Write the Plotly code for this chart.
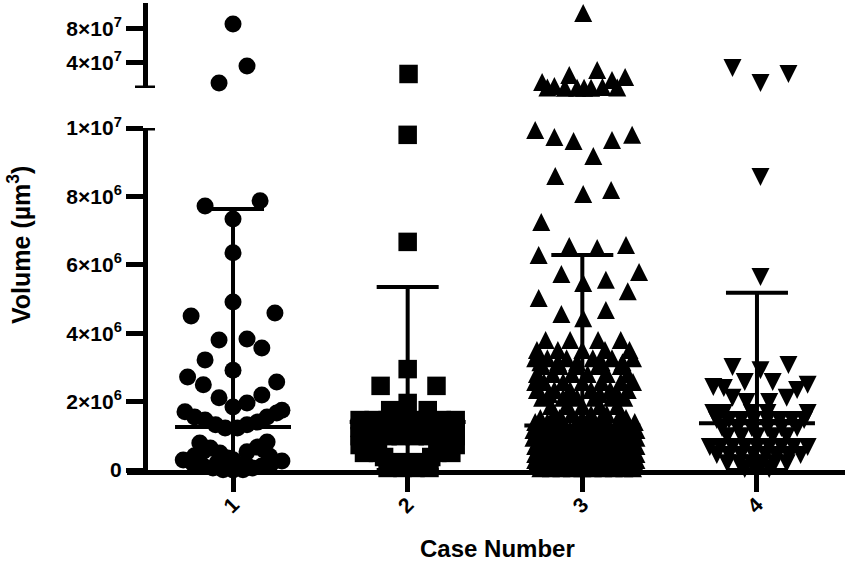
import plotly.graph_objects as go

# ---------------- data ----------------
categories = [1, 2, 3, 4]
tick_labels = ["1", "2", "3", "4"]

case1_volume = [8.53e7, 3.59e7, 1.59e7,
                7.72e6, 7.87e6, 7.34e6, 6.35e6, 4.91e6, 4.50e6, 4.59e6, 3.80e6, 3.83e6, 3.57e6,
                3.22e6, 2.92e6, 2.72e6, 2.49e6, 2.57e6, 2.11e6, 2.19e6, 1.84e6, 1.96e6,
                1.70e6, 1.55e6, 1.46e6, 1.32e6, 1.23e6, 1.23e6, 1.32e6, 1.40e6, 1.55e6, 1.67e6, 1.75e6,
                0.79e6, 0.64e6, 0.50e6, 0.35e6, 0.53e6, 0.67e6, 0.82e6,
                0.42e6, 0.40e6, 0.55e6, 0.58e6, 0.22e6, 0.20e6, 0.30e6,
                0.29e6, 0.20e6, 0.12e6, 0.06e6, 0.01e6, 0.01e6, 0.06e6, 0.12e6, 0.20e6, 0.26e6, 0.0]
case1_jitter = [0.00, 0.08, -0.08,
                -0.16, 0.155, 0.0, 0.0, 0.0, -0.24, 0.24, -0.08, 0.08, 0.165,
                -0.16, 0.0, -0.26, -0.17, 0.25, -0.08, 0.165, 0.0, 0.08,
                -0.275, -0.22, -0.16, -0.10, -0.045, 0.025, 0.08, 0.14, 0.195, 0.25, 0.28,
                -0.19, -0.13, -0.075, -0.03, 0.08, 0.14, 0.195,
                -0.22, 0.21, -0.17, 0.18, -0.09, 0.07, 0.0,
                -0.285, -0.23, -0.17, -0.115, -0.057, 0.057, 0.11, 0.165, 0.22, 0.28, 0.0]

case2_volume = [2.65e7,
                9.80e6, 6.67e6, 2.95e6, 2.46e6, 2.46e6, 1.96e6, 1.75e6, 1.75e6,
                1.46e6, 1.46e6, 1.46e6, 1.46e6, 1.46e6, 1.46e6, 1.46e6, 1.46e6,
                1.23e6, 1.23e6, 1.23e6, 1.23e6, 1.23e6, 1.23e6,
                0.99e6, 0.99e6, 0.99e6, 0.99e6, 0.99e6, 0.99e6, 0.99e6, 0.99e6,
                0.73e6, 0.73e6, 0.73e6, 0.73e6,
                0.50e6, 0.50e6, 0.50e6, 0.50e6,
                0.38e6, 0.38e6, 0.23e6, 0.23e6,
                0.06e6, 0.06e6, 0.06e6, 0.06e6]
case2_jitter = [0.005,
                0.0, 0.0, 0.0, -0.155, 0.165, 0.0, -0.10, 0.115,
                -0.275, -0.195, -0.115, -0.04, 0.04, 0.115, 0.195, 0.275,
                -0.275, 0.275, -0.16, -0.06, 0.07, 0.17,
                -0.275, -0.195, -0.115, -0.04, 0.04, 0.115, 0.195, 0.275,
                -0.275, -0.195, 0.195, 0.275,
                -0.25, -0.17, 0.17, 0.25,
                -0.135, 0.135, -0.057, 0.057,
                -0.115, -0.03, 0.045, 0.125]

case3_volume = [9.82e7, 1.71e7, 1.24e7, 2.53e7, 1.02e7, 1.02e7, 3.12e7, 1.12e7, 1.94e7, 2.29e7,
                1.02e7, 1.02e7, 1.05e7, 1.05e7,
                9.94e6, 9.74e6, 9.62e6, 9.18e6, 9.65e6, 9.80e6, 8.60e6, 8.07e6, 8.19e6,
                7.25e6, 6.55e6, 6.49e6, 6.29e6, 6.58e6, 5.73e6, 5.47e6, 5.56e6, 5.79e6,
                5.03e6, 4.56e6, 4.44e6, 4.68e6, 5.23e6,
                3.80e6, 3.80e6, 3.80e6, 3.80e6,
                3.51e6, 3.51e6, 3.51e6, 3.51e6, 3.51e6,
                3.27e6, 3.27e6, 3.27e6, 3.27e6, 3.27e6, 3.27e6,
                3.04e6, 3.04e6, 3.04e6, 3.04e6, 3.04e6,
                2.81e6, 2.81e6, 2.81e6, 2.81e6, 2.81e6, 2.81e6,
                2.57e6, 2.57e6, 2.57e6, 2.57e6, 2.57e6, 2.57e6, 2.57e6,
                2.34e6, 2.34e6, 2.34e6, 2.34e6, 2.34e6, 2.34e6,
                2.11e6, 2.11e6, 2.11e6, 2.11e6, 2.11e6, 2.11e6,
                1.87e6, 1.87e6, 1.87e6, 1.87e6, 1.87e6,
                1.64e6, 1.64e6, 1.64e6, 1.64e6, 1.64e6,
                1.40e6, 1.40e6, 1.40e6, 1.40e6, 1.40e6, 1.40e6, 1.40e6, 1.40e6,
                1.17e6, 1.17e6, 1.17e6, 1.17e6, 1.17e6, 1.17e6, 1.17e6, 1.17e6, 1.17e6,
                0.94e6, 0.94e6, 0.94e6, 0.94e6, 0.94e6, 0.94e6, 0.94e6, 0.94e6, 0.94e6, 0.94e6,
                0.70e6, 0.70e6, 0.70e6, 0.70e6, 0.70e6, 0.70e6, 0.70e6, 0.70e6, 0.70e6, 0.70e6,
                0.47e6, 0.47e6, 0.47e6, 0.47e6, 0.47e6, 0.47e6, 0.47e6, 0.47e6, 0.47e6, 0.47e6, 0.47e6,
                0.29e6, 0.29e6, 0.29e6, 0.29e6, 0.29e6, 0.29e6, 0.29e6, 0.29e6, 0.29e6, 0.29e6, 0.29e6,
                0.12e6, 0.12e6, 0.12e6, 0.12e6, 0.12e6, 0.12e6, 0.12e6, 0.12e6, 0.12e6, 0.12e6, 0.12e6,
                3.15e6, 3.15e6, 3.15e6, 3.15e6, 3.15e6,
                2.22e6, 2.22e6, 2.22e6, 2.22e6,
                1.52e6, 1.52e6, 1.52e6, 1.52e6, 1.52e6,
                1.28e6, 1.28e6, 1.28e6, 1.28e6, 1.28e6, 1.28e6, 1.28e6, 1.28e6,
                1.05e6, 1.05e6, 1.05e6, 1.05e6, 1.05e6, 1.05e6, 1.05e6, 1.05e6, 1.05e6, 1.05e6,
                0.82e6, 0.82e6, 0.82e6, 0.82e6, 0.82e6, 0.82e6, 0.82e6, 0.82e6, 0.82e6, 0.82e6,
                0.58e6, 0.58e6, 0.58e6, 0.58e6, 0.58e6, 0.58e6, 0.58e6, 0.58e6, 0.58e6, 0.58e6,
                0.38e6, 0.38e6, 0.38e6, 0.38e6, 0.38e6, 0.38e6, 0.38e6, 0.38e6, 0.38e6, 0.38e6,
                0.20e6, 0.20e6, 0.20e6, 0.20e6, 0.20e6, 0.20e6, 0.20e6, 0.20e6, 0.20e6, 0.20e6,
                0.05e6, 0.05e6, 0.05e6, 0.05e6, 0.05e6, 0.05e6, 0.05e6, 0.05e6, 0.05e6, 0.05e6]
case3_jitter = [0.005, -0.23, -0.16, -0.075, -0.03, 0.05, 0.085, 0.115, 0.17, 0.245,
                -0.10, 0.01, -0.20, 0.20,
                -0.27, -0.16, -0.05, 0.063, 0.17, 0.285, -0.155, 0.005, 0.165,
                -0.235, -0.075, 0.085, -0.25, 0.25, -0.12, 0.005, 0.135, 0.325,
                -0.25, -0.12, 0.005, 0.135, 0.26,
                -0.21, -0.07, 0.09, 0.22,
                -0.26, -0.14, 0.0, 0.13, 0.27,
                -0.27, -0.20, -0.09, 0.06, 0.17, 0.29,
                -0.23, -0.13, -0.03, 0.09, 0.22,
                -0.26, -0.17, -0.06, 0.03, 0.14, 0.26,
                -0.27, -0.22, -0.11, 0.0, 0.11, 0.22, 0.29,
                -0.26, -0.16, -0.07, 0.05, 0.16, 0.26,
                -0.23, -0.11, -0.03, 0.07, 0.17, 0.24,
                -0.18, -0.09, 0.0, 0.10, 0.20,
                -0.16, -0.06, 0.05, 0.14, 0.22,
                -0.27, -0.20, -0.11, -0.03, 0.06, 0.14, 0.23, 0.30,
                -0.28, -0.22, -0.14, -0.07, 0.0, 0.08, 0.16, 0.24, 0.31,
                -0.28, -0.22, -0.15, -0.08, -0.01, 0.05, 0.12, 0.19, 0.25, 0.31,
                -0.27, -0.20, -0.13, -0.06, 0.01, 0.08, 0.15, 0.22, 0.28, 0.31,
                -0.27, -0.21, -0.15, -0.09, -0.03, 0.03, 0.09, 0.15, 0.21, 0.27, 0.31,
                -0.27, -0.21, -0.15, -0.09, -0.03, 0.03, 0.09, 0.15, 0.21, 0.27, 0.31,
                -0.27, -0.21, -0.15, -0.09, -0.03, 0.03, 0.09, 0.15, 0.21, 0.27, 0.31,
                -0.24, -0.14, -0.03, 0.11, 0.23,
                -0.19, -0.08, 0.10, 0.20,
                -0.24, -0.13, 0.0, 0.11, 0.25,
                -0.25, -0.17, -0.10, -0.03, 0.04, 0.11, 0.19, 0.27,
                -0.24, -0.18, -0.12, -0.06, 0.0, 0.06, 0.12, 0.18, 0.24, 0.29,
                -0.24, -0.18, -0.12, -0.06, 0.0, 0.06, 0.12, 0.18, 0.24, 0.29,
                -0.24, -0.18, -0.12, -0.06, 0.0, 0.06, 0.12, 0.18, 0.24, 0.29,
                -0.24, -0.18, -0.12, -0.06, 0.0, 0.06, 0.12, 0.18, 0.24, 0.29,
                -0.24, -0.18, -0.12, -0.06, 0.0, 0.06, 0.12, 0.18, 0.24, 0.29,
                -0.24, -0.18, -0.12, -0.06, 0.0, 0.06, 0.12, 0.18, 0.24, 0.29]

case4_volume = [3.35e7, 1.59e7, 2.65e7,
                8.57e6, 5.64e6,
                3.01e6, 2.92e6, 3.07e6, 2.57e6, 2.57e6, 2.43e6, 2.40e6, 2.49e6, 2.34e6,
                2.11e6, 1.99e6, 1.99e6, 2.11e6,
                1.67e6, 1.67e6, 1.67e6, 1.67e6, 1.67e6,
                1.46e6, 1.46e6, 1.46e6, 1.46e6, 1.46e6, 1.46e6, 1.46e6, 1.46e6,
                1.23e6, 1.23e6, 1.23e6, 1.23e6, 1.23e6, 1.23e6,
                0.99e6, 0.99e6, 0.99e6, 0.99e6, 0.99e6,
                0.67e6, 0.67e6, 0.67e6, 0.67e6, 0.67e6, 0.67e6, 0.67e6, 0.67e6, 0.67e6,
                0.44e6, 0.44e6, 0.44e6, 0.44e6, 0.44e6, 0.44e6, 0.44e6, 0.44e6,
                0.20e6, 0.20e6, 0.20e6, 0.20e6, 0.20e6, 0.20e6,
                0.03e6, 0.03e6, 0.03e6]
case4_jitter = [-0.14, 0.02, 0.18,
                0.02, 0.02,
                -0.14, 0.02, 0.18, -0.07, 0.09, -0.25, -0.19, 0.29, 0.23,
                -0.14, -0.06, 0.07, 0.17,
                -0.25, -0.19, -0.03, 0.06, 0.29,
                -0.23, -0.16, -0.09, -0.02, 0.06, 0.13, 0.20, 0.27,
                -0.20, -0.11, -0.03, 0.06, 0.14, 0.23,
                -0.17, -0.09, 0.0, 0.09, 0.17,
                -0.27, -0.21, -0.14, -0.07, 0.0, 0.07, 0.14, 0.21, 0.29,
                -0.23, -0.16, -0.09, -0.02, 0.05, 0.11, 0.18, 0.25,
                -0.17, -0.10, -0.03, 0.03, 0.10, 0.17,
                -0.07, 0.0, 0.07]

summary_center = [1.26e6, 1.40e6, 1.30e6, 1.37e6]
summary_upper = [7.63e6, 5.35e6, 6.29e6, 5.18e6]

low_ticks = [0, 2e6, 4e6, 6e6, 8e6, 1e7]
low_ticktext = ["0", "2×10<sup>6</sup>", "4×10<sup>6</sup>", "6×10<sup>6</sup>",
                "8×10<sup>6</sup>", "1×10<sup>7</sup>"]
high_ticks = [4e7, 8e7]
high_ticktext = ["4×10<sup>7</sup>", "8×10<sup>7</sup>"]

# ---------------- layout constants ----------------
W, H = 849, 570
ML, MR, MT, MB = 127, 4, 3, 100
PW, PH = W - ML - MR, H - MT - MB
BREAK = 1e7
LOW_RANGE = [0, BREAK]
HIGH_RANGE = [BREAK, 1.1e8]
LOW_DOM = [0, 342 / PH]
HIGH_DOM = [382 / PH, 1]
X_RANGE = [0.393, 4.504]
YAXIS_POS = 18 / PW
FONT = "Liberation Sans, Arial, Helvetica, sans-serif"
MEDIAN_HALF = 0.332

fig = go.Figure()


def add_case(vals, jit, cat, marker):
    lx, ly, hx, hy = [], [], [], []
    for v, j in zip(vals, jit):
        if v > BREAK:
            hx.append(cat + j)
            hy.append(v)
        else:
            lx.append(cat + j)
            ly.append(v)
    mk = dict(color="black", line=dict(width=0), **marker)
    fig.add_trace(go.Scatter(x=lx, y=ly, mode="markers", marker=mk, yaxis="y",
                             cliponaxis=False, showlegend=False, hoverinfo="skip"))
    fig.add_trace(go.Scatter(x=hx, y=hy, mode="markers", marker=mk, yaxis="y2",
                             cliponaxis=False, showlegend=False, hoverinfo="skip"))


# arrow symbols are tip-anchored; the standoff recentres them on their value
add_case(case1_volume, case1_jitter, categories[0], dict(symbol="circle", size=17))
add_case(case2_volume, case2_jitter, categories[1], dict(symbol="square", size=18.5))
add_case(case3_volume, case3_jitter, categories[2],
         dict(symbol="arrow-down", size=18, angle=180, standoff=9))
add_case(case4_volume, case4_jitter, categories[3],
         dict(symbol="arrow-down", size=18, angle=0, standoff=9))

fig.add_trace(go.Scatter(
    x=categories, y=summary_center, mode="markers", yaxis="y",
    marker=dict(size=1, color="black"), cliponaxis=False,
    error_y=dict(type="data", symmetric=False,
                 array=[u - c for u, c in zip(summary_upper, summary_center)],
                 arrayminus=summary_center, thickness=4, width=31, color="black"),
    error_x=dict(type="data", array=[MEDIAN_HALF] * len(categories),
                 thickness=4, width=0, color="black"),
    showlegend=False, hoverinfo="skip"))

axis_common = dict(showgrid=False, zeroline=False, showline=True, linecolor="black",
                   linewidth=5, ticks="outside", ticklen=17, tickwidth=5, tickcolor="black",
                   automargin=False,
                   tickfont=dict(family=FONT, size=21, color="black", weight="bold"))

fig.update_layout(
    template="none",
    width=W, height=H, margin=dict(l=ML, r=MR, t=MT, b=MB, autoexpand=False),
    paper_bgcolor="white", plot_bgcolor="white",
    xaxis=dict(range=X_RANGE, tickvals=categories, ticktext=tick_labels, tickangle=-45,
               anchor="y", ticklabelstandoff=-8, **axis_common),
    yaxis=dict(range=LOW_RANGE, domain=LOW_DOM, tickvals=low_ticks, ticktext=low_ticktext,
               anchor="free", position=YAXIS_POS, **axis_common),
    yaxis2=dict(range=HIGH_RANGE, domain=HIGH_DOM, tickvals=high_ticks, ticktext=high_ticktext,
                anchor="free", position=YAXIS_POS, **axis_common),
    shapes=[
        dict(type="line", xref="paper", yref="y", x0=0.0, x1=28 / PW, y0=BREAK, y1=BREAK,
             line=dict(color="black", width=5)),
        dict(type="line", xref="paper", yref="y2", x0=8 / PW, x1=28 / PW, y0=BREAK, y1=BREAK,
             line=dict(color="black", width=5)),
    ],
    annotations=[
        dict(text="Case Number", xref="paper", yref="paper", x=(497 - ML) / PW,
             y=(470 - 548) / PH, showarrow=False, xanchor="center", yanchor="middle",
             font=dict(family=FONT, size=24, color="black", weight="bold")),
        dict(text="Volume (µm<sup>3</sup>)", xref="paper", yref="paper", x=(19 - ML) / PW,
             y=(470 - 245) / PH, showarrow=False, xanchor="center", yanchor="middle",
             textangle=-90, font=dict(family=FONT, size=25, color="black", weight="bold")),
    ],
)

fig.write_html("out.html", config={"displayModeBar": False},
               post_script="document.body.style.margin='0';")
